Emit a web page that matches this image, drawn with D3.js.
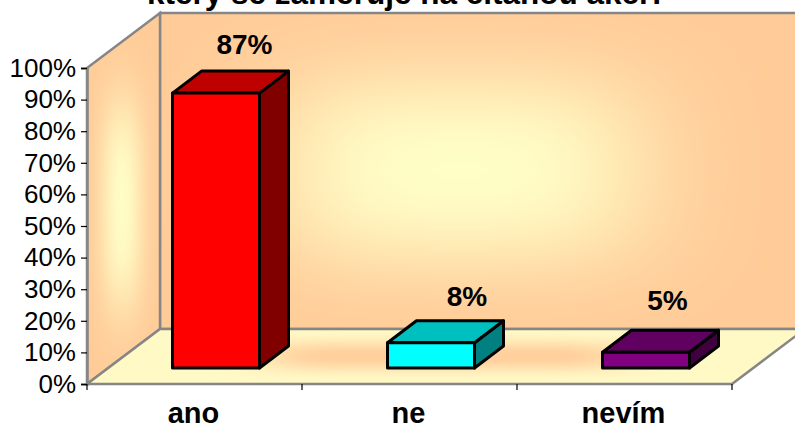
<!DOCTYPE html>
<html><head><meta charset="utf-8">
<script src="https://cdn.jsdelivr.net/npm/d3@7"></script>
<style>html,body{margin:0;padding:0;background:#fff}svg{display:block}</style>
</head><body><svg id="c" width="795" height="428"></svg>
<script>
const categories = ["ano", "ne", "nevím"];
const values = [87, 8, 5];
const labels = ["87%", "8%", "5%"];
const frontColors = ["#ff0000", "#00ffff", "#800080"];
const topColors = ["#bf0000", "#00bfbf", "#600060"];
const sideColors = ["#800000", "#008080", "#400040"];
const yTicks = [0, 10, 20, 30, 40, 50, 60, 70, 80, 90, 100];
const titleText = "který se zaměřuje na čítanou akci?";

const font = "'Liberation Sans', Arial, sans-serif";
const svg = d3.select("#c");
const X0 = 87, X1 = 732, Y0 = 384, Y100 = 68;
const DX = 73, DY = -55;
const x = d3.scaleBand().domain(categories).range([X0, X1]);
const y = d3.scaleLinear().domain([0, 100]).range([Y0, Y100]);
const barW = 87, barShiftX = 21.5, barShiftY = -16, barDX = 29, barDY = -22;
const labelNudgeX = [28.5, 36, 21.5], labelGap = [17, 15, 20];

const defs = svg.append("defs");
const peach = "#ffcc99", cream = "#ffffc8";
const blur = (id, s) => defs.append("filter").attr("id", id)
  .attr("filterUnits", "userSpaceOnUse").attr("x", -300).attr("y", -300).attr("width", 1500).attr("height", 1100)
  .append("feGaussianBlur").attr("stdDeviation", s);
blur("bBack", "62 42"); blur("bWall", "10 38"); blur("bFloor", "30 7");

const poly = (pts) => d3.line()(pts) + "Z";
const wallStroke = "#868686";
const backPts = [[X0 + DX, y(100) + DY], [X1 + DX, y(100) + DY], [X1 + DX, y(0) + DY], [X0 + DX, y(0) + DY]];
const wallPts = [[X0, y(100)], [X0 + DX, y(100) + DY], [X0 + DX, y(0) + DY], [X0, y(0)]];
const floorPts = [[X0, y(0)], [X0 + DX, y(0) + DY], [X1 + DX, y(0) + DY], [X1, y(0)]];
defs.append("clipPath").attr("id", "cBack").append("path").attr("d", poly(backPts));
defs.append("clipPath").attr("id", "cWall").append("path").attr("d", poly(wallPts));
defs.append("clipPath").attr("id", "cFloor").append("path").attr("d", poly(floorPts));

const gBack = svg.append("g").attr("clip-path", "url(#cBack)");
gBack.append("path").attr("d", poly(backPts)).attr("fill", peach);
gBack.append("rect").attr("x", 290).attr("y", 85).attr("width", 340).attr("height", 170).attr("fill", cream).attr("filter", "url(#bBack)");
svg.append("path").attr("d", poly(backPts)).attr("fill", "none").attr("stroke", wallStroke).attr("stroke-width", 2.5);

const gWall = svg.append("g").attr("clip-path", "url(#cWall)");
gWall.append("path").attr("d", poly(wallPts)).attr("fill", peach);
gWall.append("rect").attr("x", 104).attr("y", 110).attr("width", 36).attr("height", 190).attr("fill", cream).attr("filter", "url(#bWall)");
svg.append("path").attr("d", poly(wallPts)).attr("fill", "none").attr("stroke", wallStroke).attr("stroke-width", 2.5);

const gFloor = svg.append("g").attr("clip-path", "url(#cFloor)");
gFloor.append("path").attr("d", poly(floorPts)).attr("fill", "#fff9c6");
gFloor.append("rect").attr("x", 270).attr("y", 344).attr("width", 350).attr("height", 24).attr("fill", peach).attr("filter", "url(#bFloor)");
svg.append("path").attr("d", poly(floorPts)).attr("fill", "none").attr("stroke", wallStroke).attr("stroke-width", 2.5);

const yAxis = d3.axisLeft(y).tickValues(yTicks).tickFormat(d => d + "%").tickSize(6).tickPadding(5);
const gy = svg.append("g").attr("transform", `translate(${X0},0)`).call(yAxis);
gy.select(".domain").attr("stroke", wallStroke).attr("stroke-width", 2.5);
gy.selectAll("text").attr("font-family", font).attr("font-size", 26).attr("fill", "#000");
gy.selectAll("line").attr("stroke", "#000").attr("stroke-width", 1.2);

const xAxis = d3.axisBottom(x).tickSize(0).tickPadding(0);
const gx = svg.append("g").attr("transform", `translate(0,${Y0})`).call(xAxis);
gx.select(".domain").remove();
gx.selectAll("text").attr("font-family", font).attr("font-size", 29).attr("font-weight", "bold").attr("fill", "#000")
  .attr("x", -1).attr("y", 39).attr("dy", 0);
const edges = categories.map(c => x(c)).concat([X1]);
svg.selectAll(".xt").data(edges).join("line").attr("class", "xt")
  .attr("x1", d => d).attr("x2", d => d).attr("y1", Y0).attr("y2", Y0 + 6)
  .attr("stroke", "#000").attr("stroke-width", 1.2);

const bars = svg.selectAll(".bar").data(categories).join("g").attr("class", "bar");
const bx = (c) => x(c) + (x.bandwidth() - barW) / 2 + barShiftX;
const by = (i) => y(values[i]) + barShiftY;
const bb = y(0) + barShiftY;
const style = (s) => s.attr("stroke", "#000").attr("stroke-width", 3).attr("stroke-linejoin", "round");
bars.append("path").attr("d", (c, i) => poly([[bx(c) + barW, by(i)], [bx(c) + barW + barDX, by(i) + barDY], [bx(c) + barW + barDX, bb + barDY], [bx(c) + barW, bb]]))
  .attr("fill", (c, i) => sideColors[i]).call(style);
bars.append("path").attr("d", (c, i) => poly([[bx(c), by(i)], [bx(c) + barDX, by(i) + barDY], [bx(c) + barW + barDX, by(i) + barDY], [bx(c) + barW, by(i)]]))
  .attr("fill", (c, i) => topColors[i]).call(style);
bars.append("path").attr("d", (c, i) => poly([[bx(c), by(i)], [bx(c) + barW, by(i)], [bx(c) + barW, bb], [bx(c), bb]]))
  .attr("fill", (c, i) => frontColors[i]).call(style);
bars.append("text").attr("x", (c, i) => bx(c) + barW / 2 + labelNudgeX[i]).attr("y", (c, i) => by(i) + barDY - labelGap[i])
  .attr("text-anchor", "middle").attr("font-family", font).attr("font-size", 28).attr("font-weight", "bold").text((c, i) => labels[i]);

svg.append("text").attr("x", 407).attr("y", 4).attr("text-anchor", "middle")
  .attr("font-family", font).attr("font-size", 31.5).attr("font-weight", "bold").text(titleText);
</script></body></html>
